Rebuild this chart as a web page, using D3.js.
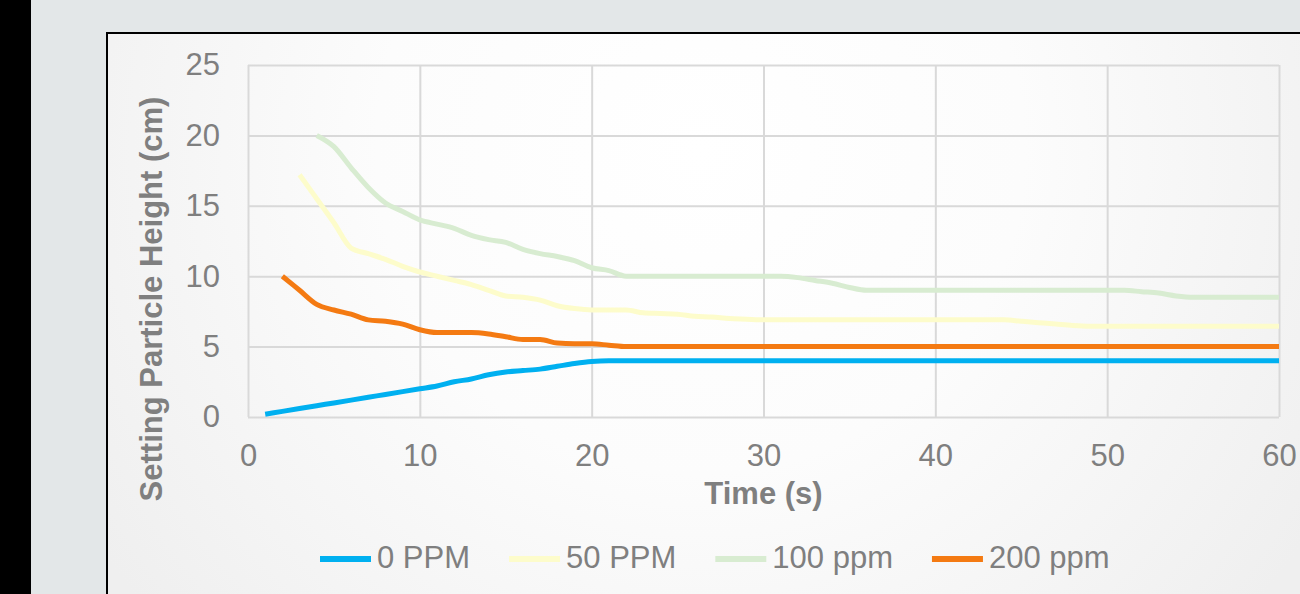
<!DOCTYPE html>
<html>
<head>
<meta charset="utf-8">
<script src="https://cdn.jsdelivr.net/npm/d3@7"></script>
<style>
  body { margin: 0; background: #000; }
  svg { display: block; font-family: "Liberation Sans", Arial, sans-serif; }
</style>
</head>
<body>
<div id="chart"></div>
<script>
// time in seconds (x)
const seconds = [1,2,3,4,5,6,7,8,9,10,11,12,13,14,15,16,17,18,19,20,
  21,22,23,24,25,26,27,28,29,30,31,32,33,34,35,36,37,38,39,40,
  41,42,43,44,45,46,47,48,49,50,51,52,53,54,55,56,57,58,59,60];

// settling particle height (cm), one value per second, null = no reading
const ppm0 = [0.2,0.4,0.6,0.8,1.0,1.2,1.4,1.6,1.8,2.0,2.2,2.5,2.7,3.0,3.2,3.3,3.4,3.6,3.8,3.95,
  4.0,4.0,4.0,4.0,4.0,4.0,4.0,4.0,4.0,4.0,4.0,4.0,4.0,4.0,4.0,4.0,4.0,4.0,4.0,4.0,
  4.0,4.0,4.0,4.0,4.0,4.0,4.0,4.0,4.0,4.0,4.0,4.0,4.0,4.0,4.0,4.0,4.0,4.0,4.0,4.0];
const ppm50 = [null,null,17.2,15.5,13.8,12.0,11.6,11.2,10.7,10.3,10.0,9.7,9.4,9.0,8.6,8.5,8.3,7.9,7.7,7.6,
  7.6,7.6,7.4,7.35,7.3,7.15,7.1,7.0,6.95,6.9,6.9,6.9,6.9,6.9,6.9,6.9,6.9,6.9,6.9,6.9,
  6.9,6.9,6.9,6.9,6.8,6.7,6.6,6.5,6.45,6.45,6.45,6.45,6.45,6.45,6.45,6.45,6.45,6.45,6.45,6.45];
const ppm100 = [null,null,null,20.0,19.2,17.7,16.3,15.2,14.6,14.0,13.7,13.4,12.9,12.6,12.4,11.9,11.6,11.4,11.1,10.6,
  10.4,10.0,10.0,10.0,10.0,10.0,10.0,10.0,10.0,10.0,10.0,9.9,9.7,9.5,9.2,9.0,9.0,9.0,9.0,9.0,
  9.0,9.0,9.0,9.0,9.0,9.0,9.0,9.0,9.0,9.0,9.0,8.9,8.8,8.6,8.5,8.5,8.5,8.5,8.5,8.5];
const ppm200 = [null,10.0,9.0,8.0,7.6,7.3,6.9,6.8,6.6,6.2,6.0,6.0,6.0,5.9,5.7,5.5,5.5,5.25,5.2,5.2,
  5.1,5.0,5.0,5.0,5.0,5.0,5.0,5.0,5.0,5.0,5.0,5.0,5.0,5.0,5.0,5.0,5.0,5.0,5.0,5.0,
  5.0,5.0,5.0,5.0,5.0,5.0,5.0,5.0,5.0,5.0,5.0,5.0,5.0,5.0,5.0,5.0,5.0,5.0,5.0,5.0];

const seriesNames = ["0 PPM", "50 PPM", "100 ppm", "200 ppm"];
const seriesColors = ["#00b0f0", "#fdfccb", "#d8ecd1", "#f47a12"];
const xTicks = [0, 10, 20, 30, 40, 50, 60];
const yTicks = [0, 5, 10, 15, 20, 25];

function drawChart() {
  const width = 1300, height = 594;
  const plot = { left: 248, right: 1279, top: 65, bottom: 417 };
  const textColor = "#7f7f7f";
  const fontSize = 31;

  let svg = d3.select("#chart").append("svg")
    .attr("width", width)
    .attr("height", height);

  // background gradient for the chart box
  let grad = svg.append("defs").append("radialGradient")
    .attr("id", "bg")
    .attr("gradientUnits", "userSpaceOnUse")
    .attr("cx", 700).attr("cy", 150).attr("r", 720);
  grad.append("stop").attr("offset", "0").attr("stop-color", "#ffffff");
  grad.append("stop").attr("offset", "0.45").attr("stop-color", "#fcfcfc");
  grad.append("stop").attr("offset", "1").attr("stop-color", "#efefef");

  svg.append("rect").attr("x", 0).attr("y", 0).attr("width", 31).attr("height", height).attr("fill", "#000");
  svg.append("rect").attr("x", 31).attr("y", 0).attr("width", width - 31).attr("height", height).attr("fill", "#e3e7e8");
  svg.append("rect")
    .attr("x", 107).attr("y", 33)
    .attr("width", 1300).attr("height", 700)
    .attr("fill", "url(#bg)")
    .attr("stroke", "#000")
    .attr("stroke-width", 2);

  // scales
  let xScale = d3.scaleLinear().domain([0, 60]).range([plot.left, plot.right]);
  let yScale = d3.scaleLinear().domain([0, 25]).range([plot.bottom, plot.top]);

  // gridlines + tick labels
  let yAxis = svg.append("g")
    .attr("transform", `translate(${plot.left},0)`)
    .call(d3.axisLeft(yScale).tickValues(yTicks).tickSize(-(plot.right - plot.left)).tickPadding(28));
  yAxis.select(".domain").remove();
  yAxis.selectAll("line").attr("stroke", "#d9d9d9").attr("stroke-width", 2);
  yAxis.selectAll("text")
    .attr("fill", textColor)
    .style("font-size", fontSize + "px")
    .style("font-family", "Liberation Sans, Arial, sans-serif");

  let xAxis = svg.append("g")
    .attr("transform", `translate(0,${plot.bottom})`)
    .call(d3.axisBottom(xScale).tickValues(xTicks).tickSize(-(plot.bottom - plot.top)).tickPadding(0));
  xAxis.select(".domain").remove();
  xAxis.selectAll("line").attr("stroke", "#d9d9d9").attr("stroke-width", 2);
  xAxis.selectAll("text")
    .attr("fill", textColor)
    .attr("y", 49)
    .attr("dy", null)
    .style("font-size", fontSize + "px")
    .style("font-family", "Liberation Sans, Arial, sans-serif");

  // axis titles
  svg.append("text")
    .attr("x", (plot.left + plot.right) / 2)
    .attr("y", 504)
    .attr("text-anchor", "middle")
    .attr("fill", textColor)
    .attr("font-weight", "bold")
    .style("font-size", fontSize + "px")
    .text("Time (s)");

  svg.append("text")
    .attr("transform", "translate(162,299) rotate(-90)")
    .attr("text-anchor", "middle")
    .attr("fill", textColor)
    .attr("font-weight", "bold")
    .style("font-size", fontSize + "px")
    .text("Setting Particle Height (cm)");

  // series lines
  let allSeries = [ppm0, ppm50, ppm100, ppm200];
  let line = d3.line()
    .defined(d => d[1] !== null)
    .x(d => xScale(d[0]))
    .y(d => yScale(d[1]))
    .curve(d3.curveMonotoneX);

  svg.append("g").selectAll("path")
    .data(allSeries)
    .enter()
    .append("path")
    .attr("d", vals => line(seconds.map((s, i) => [s, vals[i]])))
    .attr("fill", "none")
    .attr("stroke", (d, i) => seriesColors[i])
    .attr("stroke-width", 5)
    .attr("stroke-linejoin", "round");

  // legend
  let legend = svg.append("g");
  let lx = 320;
  seriesNames.forEach((name, i) => {
    legend.append("line")
      .attr("x1", lx).attr("x2", lx + 51)
      .attr("y1", 559).attr("y2", 559)
      .attr("stroke", seriesColors[i])
      .attr("stroke-width", 6);
    let t = legend.append("text")
      .attr("x", lx + 57)
      .attr("y", 568)
      .attr("fill", textColor)
      .style("font-size", fontSize + "px")
      .text(name);
    lx += 57 + t.node().getComputedTextLength() + 39;
  });
}

drawChart();
</script>
</body>
</html>
